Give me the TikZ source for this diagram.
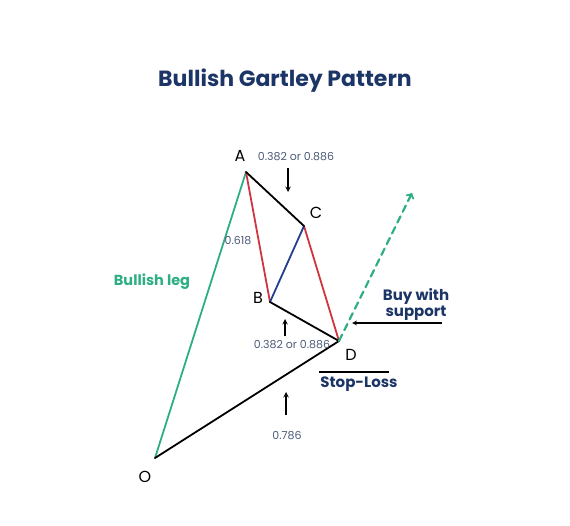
\documentclass[tikz,border=0pt]{standalone}
\usepackage{fontspec}
\setmainfont{Poppins}
\definecolor{navy}{HTML}{1C3567}
\definecolor{legGreen}{HTML}{2DAE84}
\definecolor{legRed}{HTML}{D0343F}
\definecolor{legBlue}{HTML}{243E8C}
\definecolor{ratioGrey}{HTML}{4C5B78}
\tikzset{
  leg/.style={line width=1.8pt, line cap=round},
  pt/.style={font=\fontsize{16}{18}\selectfont},
  ratio/.style={text=ratioGrey, font=\fontsize{11}{13}\selectfont},
  hint/.style={text=navy, font=\bfseries\fontsize{15}{17}\selectfont, align=center},
  mark arrow/.style={->, >=stealth, line width=1.4pt}
}
\begin{document}
\begin{tikzpicture}[x=1pt,y=-1pt]
\useasboundingbox (0,0) rectangle (570,526);
% title
\node[name=title, text=navy, font=\bfseries\fontsize{22}{26}\selectfont] at (285,81) {Bullish Gartley Pattern};
% pattern points
\coordinate (o) at (155,458);
\coordinate (a) at (246,172);
\coordinate (c) at (304,226);
\coordinate (b) at (270,302);
\coordinate (d) at (339,341);
\coordinate (up) at (412,193);
% legs
\draw[leg, legGreen] (o)--(a);
\draw[leg, legRed] (a)--(b);
\draw[leg, legRed] (c)--(d);
\draw[leg, legBlue] (b)--(c);
\draw[leg] (a)--(c);
\draw[leg] (b)--(d);
\draw[leg] (o)--(d);
\draw[leg, legGreen, line width=2.2pt, dash pattern=on 7pt off 5pt, ->] (d)--(up);
% point names
\node[pt, name=la] at (240,156) {A};
\node[pt, name=lb] at (258,298) {B};
\node[pt, name=lc] at (316,213) {C};
\node[pt, name=ld] at (351,355) {D};
\node[pt, name=lo] at (145,477) {O};
% ratios
\node[ratio, name=rac] at (296,157) {0.382 or 0.886};
\node[ratio, name=rab] at (238,241) {0.618};
\node[ratio, name=rbd] at (292,345) {0.382 or 0.886};
\node[ratio, name=rod] at (287,436) {0.786};
\coordinate (m1s) at (288,168);
\coordinate (m1e) at (288,192);
\coordinate (m2s) at (285,336);
\coordinate (m2e) at (285,319);
\coordinate (m3s) at (286,415);
\coordinate (m3e) at (286,392);
\draw[mark arrow] (m1s)--(m1e);
\draw[mark arrow] (m2s)--(m2e);
\draw[mark arrow] (m3s)--(m3e);
% labels
\node[name=bleg, text=legGreen, font=\bfseries\fontsize{14.5}{16}\selectfont] at (152,282) {Bullish leg};
\node[hint, name=buy] at (416,304) {Buy with\\[-1pt]support};
\coordinate (buyR) at (442,323);
\coordinate (buyL) at (352,323);
\draw[line width=1.2pt, ->, >=stealth] (buyR)--(buyL);
\coordinate (slL) at (319,372);
\coordinate (slR) at (389,372);
\draw[line width=1.2pt] (slL)--(slR);
\node[hint, name=stop] at (359,384) {Stop-Loss};
\end{tikzpicture}
\end{document}
